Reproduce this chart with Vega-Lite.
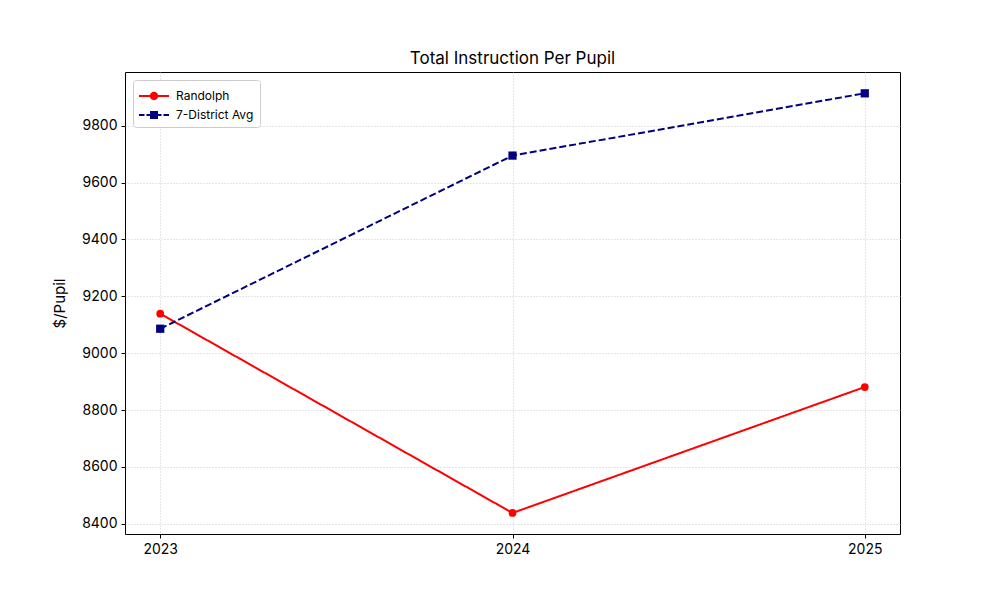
{
  "$schema": "https://vega.github.io/schema/vega-lite/v6.json",
  "autosize": {"type": "none"},
  "width": 775,
  "height": 462,
  "padding": {"left": 125, "top": 72, "right": 100, "bottom": 66},
  "background": "white",
  "title": {
    "text": "Total Instruction Per Pupil",
    "font": "Inter",
    "fontSize": 17,
    "fontWeight": "normal",
    "color": "black",
    "anchor": "middle",
    "offset": 4
  },
  "data": {
    "values": [
      {"year": 2023, "series": "Randolph", "value": 9139},
      {"year": 2024, "series": "Randolph", "value": 8438},
      {"year": 2025, "series": "Randolph", "value": 8881},
      {"year": 2023, "series": "7-District Avg", "value": 9086},
      {"year": 2024, "series": "7-District Avg", "value": 9695},
      {"year": 2025, "series": "7-District Avg", "value": 9914}
    ]
  },
  "encoding": {
    "x": {
      "field": "year",
      "type": "quantitative",
      "title": null,
      "scale": {"domain": [2022.9, 2025.1], "nice": false, "zero": false},
      "axis": {"values": [2023, 2024, 2025], "format": "d"}
    },
    "y": {
      "field": "value",
      "type": "quantitative",
      "title": "$/Pupil",
      "scale": {"domain": [8364, 9989], "nice": false, "zero": false},
      "axis": {"values": [8400, 8600, 8800, 9000, 9200, 9400, 9600, 9800], "format": "d"}
    }
  },
  "layer": [
    {
      "mark": {"type": "line", "strokeWidth": 2},
      "encoding": {
        "color": {
          "field": "series",
          "type": "nominal",
          "scale": {"domain": ["Randolph", "7-District Avg"], "range": ["#ff0000", "#000080"]},
          "legend": null
        },
        "strokeDash": {
          "field": "series",
          "type": "nominal",
          "scale": {"domain": ["Randolph", "7-District Avg"], "range": [[1, 0], [7, 3]]},
          "legend": null
        }
      }
    },
    {
      "mark": {"type": "point", "filled": true, "opacity": 1},
      "encoding": {
        "color": {
          "field": "series",
          "type": "nominal",
          "scale": {"domain": ["Randolph", "7-District Avg"], "range": ["#ff0000", "#000080"]},
          "legend": null
        },
        "shape": {
          "field": "series",
          "type": "nominal",
          "scale": {"domain": ["Randolph", "7-District Avg"], "range": ["circle", "square"]},
          "legend": null
        },
        "size": {
          "field": "series",
          "type": "nominal",
          "scale": {"domain": ["Randolph", "7-District Avg"], "range": [60, 68]},
          "legend": null
        }
      }
    },
    {
      "mark": {"type": "point", "filled": true, "opacity": 0},
      "encoding": {
        "color": {
          "field": "series",
          "type": "nominal",
          "scale": {"domain": ["Randolph", "7-District Avg"], "range": ["#ff0000", "#000080"]},
          "legend": {
            "title": null,
            "orient": "none",
            "legendX": 8,
            "legendY": 8,
            "symbolSize": 400,
            "symbolOpacity": 1,
            "symbolStrokeWidth": 0,
            "symbolOffset": 5,
            "labelFont": "Inter",
            "labelFontSize": 12,
            "labelColor": "black",
            "rowPadding": 3,
            "labelOffset": 12,
            "padding": 6,
            "strokeColor": "#cccccc",
            "fillColor": "white",
            "cornerRadius": 3
          }
        },
        "shape": {
          "field": "series",
          "type": "nominal",
          "scale": {
            "domain": ["Randolph", "7-District Avg"],
            "range": [
              "M-1.5,-0.1L1.5,-0.1L1.5,0.1L-1.5,0.1Z M-0.42,0A0.42,0.42 0 1,1 0.42,0A0.42,0.42 0 1,1 -0.42,0Z",
              "M-1.5,-0.1L-0.95,-0.1L-0.95,0.1L-1.5,0.1Z M-0.75,-0.1L0.75,-0.1L0.75,0.1L-0.75,0.1Z M0.95,-0.1L1.5,-0.1L1.5,0.1L0.95,0.1Z M-0.4,-0.4L0.4,-0.4L0.4,0.4L-0.4,0.4Z"
            ]
          },
          "legend": {
            "title": null,
            "orient": "none",
            "legendX": 8,
            "legendY": 8,
            "symbolSize": 400,
            "symbolOpacity": 1,
            "symbolStrokeWidth": 0,
            "symbolOffset": 5,
            "labelFont": "Inter",
            "labelFontSize": 12,
            "labelColor": "black",
            "rowPadding": 3,
            "labelOffset": 12,
            "padding": 6,
            "strokeColor": "#cccccc",
            "fillColor": "white",
            "cornerRadius": 3
          }
        }
      }
    }
  ],
  "resolve": {
    "scale": {"shape": "independent", "size": "independent"},
    "legend": {"color": "independent", "shape": "independent"}
  },
  "config": {
    "view": {"stroke": "black", "strokeWidth": 1},
    "axis": {
      "labelFont": "Inter",
      "labelFontSize": 14,
      "labelColor": "black",
      "titleFont": "Inter",
      "titleFontSize": 15,
      "titleFontWeight": "normal",
      "titleColor": "black",
      "domain": false,
      "tickColor": "black",
      "tickSize": 4,
      "labelPadding": 4,
      "grid": true,
      "gridColor": "#c0c0c0",
      "gridDash": [1, 2],
      "gridWidth": 0.8
    },
    "axisY": {"titlePadding": 14}
  }
}
